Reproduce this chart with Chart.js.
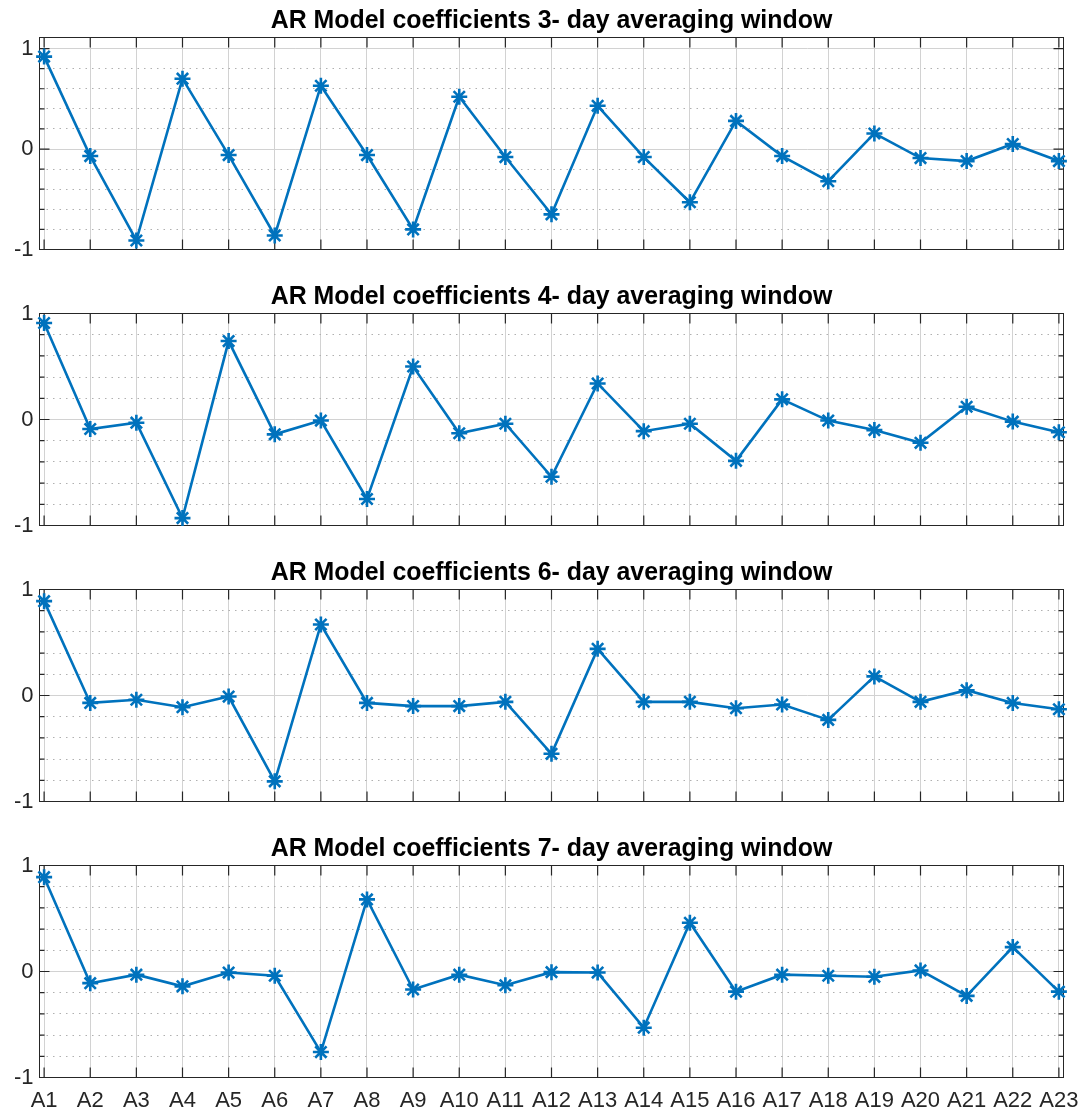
<!DOCTYPE html>
<html>
<head>
<meta charset="utf-8">
<title>AR Model coefficients</title>
<script src="https://cdn.jsdelivr.net/npm/chart.js@4.4.1/dist/chart.umd.min.js"></script>
<style>
  html, body { margin: 0; padding: 0; background: #ffffff; }
  #wrap { position: relative; width: 1084px; height: 1114px; }
  #wrap canvas { position: absolute; left: 0; }
</style>
</head>
<body>
<div id="wrap"></div>
<script>
// Lag labels on the shared x axis
const lagLabels = ['A1','A2','A3','A4','A5','A6','A7','A8','A9','A10','A11','A12',
                   'A13','A14','A15','A16','A17','A18','A19','A20','A21','A22','A23'];

// Averaging window lengths (days), one panel each
const windowDays = [3, 4, 6, 7];

// AR model coefficients per averaging window
const coefWin3 = [0.92, -0.07, -0.91, 0.70, -0.06, -0.86, 0.63, -0.06, -0.80, 0.52, -0.08, -0.65,
                  0.43, -0.08, -0.53, 0.28, -0.07, -0.32, 0.155, -0.09, -0.12, 0.05, -0.12];
const coefWin4 = [0.91, -0.09, -0.03, -0.93, 0.74, -0.14, -0.01, -0.75, 0.50, -0.13, -0.04, -0.54,
                  0.34, -0.11, -0.04, -0.39, 0.19, -0.01, -0.10, -0.22, 0.12, -0.02, -0.12];
const coefWin6 = [0.89, -0.07, -0.04, -0.11, -0.01, -0.81, 0.67, -0.07, -0.10, -0.10, -0.06, -0.55,
                  0.44, -0.06, -0.06, -0.12, -0.085, -0.23, 0.18, -0.06, 0.05, -0.07, -0.13];
const coefWin7 = [0.89, -0.11, -0.03, -0.14, -0.01, -0.04, -0.76, 0.68, -0.17, -0.03, -0.13, -0.006,
                  -0.01, -0.53, 0.46, -0.19, -0.03, -0.04, -0.05, 0.01, -0.23, 0.23, -0.19];

// Upper y limit of each panel
const yUpper = [1.11, 1, 1, 1];

const seriesList = [coefWin3, coefWin4, coefWin6, coefWin7];

const FONT = 'Liberation Sans, Arial, Helvetica, sans-serif';
const LINE_BLUE = '#0072BD';
const AXIS_DARK = '#262626';
const PANEL_STEP = 276;
const AREA_TOP = 37.5;
const AREA_BOTTOM = 249.5;

const isWhole = v => Math.abs(v - Math.round(v)) < 1e-6;

// Axes box with inward tick marks on all four sides
const axesFrame = {
  id: 'axesFrame',
  beforeDatasetsDraw(chart) {
    const { ctx, chartArea: a, scales: { x, y } } = chart;
    ctx.save();
    ctx.strokeStyle = AXIS_DARK;
    ctx.lineWidth = 1.2;
    ctx.beginPath();
    x.ticks.forEach(t => {
      const px = x.getPixelForValue(t.value);
      ctx.moveTo(px, a.top); ctx.lineTo(px, a.top + 10);
      ctx.moveTo(px, a.bottom); ctx.lineTo(px, a.bottom - 10);
    });
    y.ticks.forEach(t => {
      const py = y.getPixelForValue(t.value);
      const len = isWhole(t.value) ? 10 : 5;
      ctx.moveTo(a.left, py); ctx.lineTo(a.left + len, py);
      ctx.moveTo(a.right, py); ctx.lineTo(a.right - len, py);
    });
    ctx.stroke();
    ctx.lineWidth = 1;
    ctx.strokeRect(a.left, a.top, a.right - a.left, a.bottom - a.top);
    ctx.restore();
  }
};

// Panel title, centred over the plot box
const panelTitle = {
  id: 'panelTitle',
  afterDraw(chart, args, opts) {
    const { ctx, chartArea: a } = chart;
    ctx.save();
    ctx.fillStyle = '#000000';
    ctx.font = 'bold 24.9px ' + FONT;
    ctx.textAlign = 'center';
    ctx.textBaseline = 'alphabetic';
    ctx.fillText(opts.text, (a.left + a.right) / 2, 27.5);
    ctx.restore();
  }
};

const wrap = document.getElementById('wrap');

seriesList.forEach((values, i) => {
  const last = i === seriesList.length - 1;
  const h = last ? 1114 - PANEL_STEP * i : PANEL_STEP;
  const canvas = document.createElement('canvas');
  canvas.width = 1084;
  canvas.height = h;
  canvas.style.width = '1084px';
  canvas.style.height = h + 'px';
  canvas.style.top = (PANEL_STEP * i) + 'px';
  wrap.appendChild(canvas);

  new Chart(canvas, {
    type: 'line',
    data: {
      datasets: [{
        data: values.map((v, k) => ({ x: k + 1, y: v })),
        borderColor: LINE_BLUE,
        backgroundColor: LINE_BLUE,
        borderWidth: 2.6,
        pointStyle: 'star',
        pointRadius: 8,
        pointBorderWidth: 2.6,
        pointBorderColor: LINE_BLUE,
        pointBackgroundColor: LINE_BLUE,
        tension: 0,
        clip: false
      }]
    },
    options: {
      responsive: false,
      animation: false,
      devicePixelRatio: 1,
      events: [],
      layout: { padding: { left: 0, right: 20.5, top: AREA_TOP, bottom: 0 } },
      plugins: {
        legend: { display: false },
        tooltip: { enabled: false },
        title: { display: false },
        panelTitle: { text: 'AR Model coefficients ' + windowDays[i] + '- day averaging window' }
      },
      scales: {
        x: {
          type: 'linear',
          min: 0.9,
          max: 23.1,
          afterFit: s => { s.height = h - AREA_BOTTOM; s.paddingLeft = 0; s.paddingRight = 0; },
          ticks: {
            display: last,
            stepSize: 1,
            includeBounds: false,
            autoSkip: false,
            maxRotation: 0,
            padding: 10.5,
            color: AXIS_DARK,
            font: { family: FONT, size: 22 },
            callback: v => lagLabels[Math.round(v) - 1] ?? ''
          },
          grid: { color: '#d2d2d2', lineWidth: 1, drawTicks: false },
          border: { display: false }
        },
        y: {
          min: -1,
          max: yUpper[i],
          afterFit: s => { s.width = 39.5; s.paddingTop = 0; s.paddingBottom = 0; },
          ticks: {
            stepSize: 0.2,
            includeBounds: false,
            autoSkip: false,
            padding: 6,
            color: AXIS_DARK,
            font: { family: FONT, size: 22 },
            callback: v => isWhole(v) ? String(Math.round(v)) : ''
          },
          grid: {
            drawTicks: false,
            lineWidth: 1,
            color: ctx => (ctx.tick && isWhole(ctx.tick.value)) ? '#d2d2d2' : '#b0b0b0'
          },
          border: {
            display: false,
            dash: ctx => (ctx.tick && !isWhole(ctx.tick.value)) ? [1.5, 5] : []
          }
        }
      }
    },
    plugins: [axesFrame, panelTitle]
  });
});
</script>
</body>
</html>
